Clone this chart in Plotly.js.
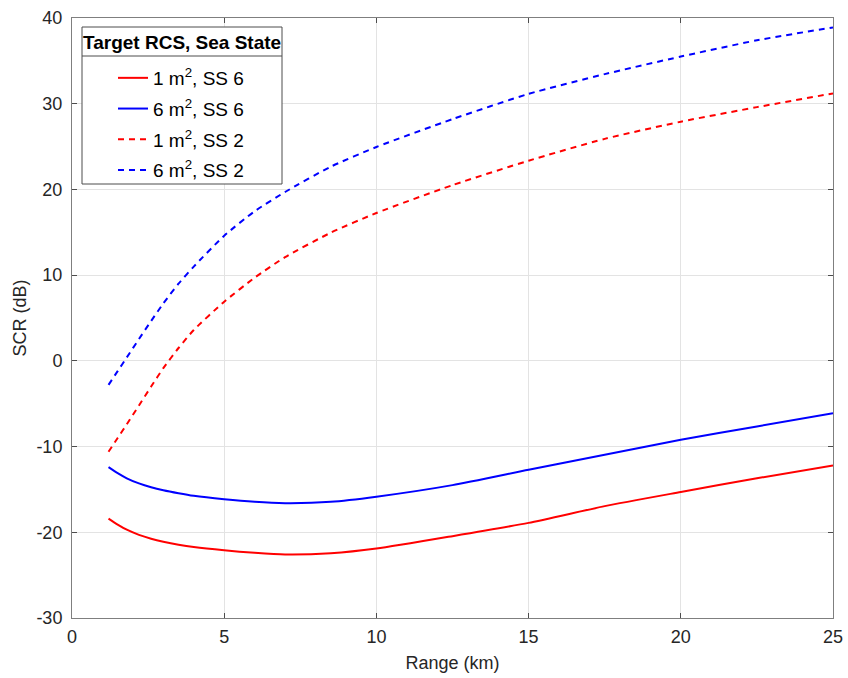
<!DOCTYPE html>
<html>
<head>
<meta charset="utf-8">
<script src="https://cdn.plot.ly/plotly-3.0.1.min.js"></script>
<style>html,body{margin:0;padding:0;background:#fff;}#chart{width:848px;height:678px;}</style>
</head>
<body>
<div id="chart"></div>
<script>
// Range (km)
const rangeKm = [1.2, 1.5, 1.8, 2.2, 2.6, 3, 3.5, 4, 5, 6, 7, 8.5, 10, 12.5, 15, 17.5, 20, 22.5, 25];
// SCR (dB)
const scr1m2SS6 = [-18.4, -19.1, -19.7, -20.3, -20.75, -21.1, -21.45, -21.72, -22.1, -22.4, -22.6, -22.45, -21.9, -20.45, -18.9, -16.95, -15.3, -13.7, -12.2];
const scr6m2SS6 = [-12.4, -13.1, -13.7, -14.3, -14.75, -15.1, -15.45, -15.75, -16.15, -16.45, -16.6, -16.45, -15.85, -14.5, -12.7, -10.95, -9.2, -7.65, -6.1];
const scr1m2SS2 = [-10.6, -9.0, -7.4, -5.2, -3.0, -0.85, 1.5, 3.6, 6.9, 9.7, 12.1, 14.95, 17.25, 20.5, 23.35, 25.9, 27.9, 29.6, 31.2];
const scr6m2SS2 = [-2.8, -1.2, 0.4, 2.55, 4.65, 6.7, 9.0, 11.0, 14.6, 17.45, 19.7, 22.65, 24.95, 28.2, 31.15, 33.45, 35.5, 37.4, 38.9];

const seriesNames = ['1 m<sup>2</sup>, SS 6', '6 m<sup>2</sup>, SS 6', '1 m<sup>2</sup>, SS 2', '6 m<sup>2</sup>, SS 2'];
const legendTitle = 'Target RCS, Sea State';
const seriesData = [scr1m2SS6, scr6m2SS6, scr1m2SS2, scr6m2SS2];
const colors = ['#ff0000', '#0000ff', '#ff0000', '#0000ff'];
const dashes = ['solid', 'solid', '6px,5px', '6px,5px'];

const font = 'Liberation Sans, Arial, sans-serif';

const traces = seriesData.map((ys, i) => ({
  x: rangeKm, y: ys, type: 'scatter', mode: 'lines',
  name: seriesNames[i], legendgroup: 'g' + i,
  line: {color: colors[i], width: 2, dash: dashes[i], shape: 'spline', smoothing: 0.6}
}));

const axisCommon = {
  showline: true, mirror: 'ticks', linecolor: '#7f7f7f', linewidth: 1,
  ticks: 'inside', ticklen: 5, tickcolor: '#4d4d4d',
  showgrid: true, gridcolor: '#e3e3e3', gridwidth: 1,
  zeroline: false,
  tickfont: {family: font, size: 18, color: '#262626'}
};

// plot area in px: left 72, right 833, top 18, bottom 618
const W = 761, H = 600, L = 72, T = 18;
const px = v => (v - L) / W;
const py = v => (T + H - v) / H;

const layout = {
  width: 848, height: 678,
  margin: {l: 72, r: 15, t: 18, b: 60},
  paper_bgcolor: '#ffffff', plot_bgcolor: '#ffffff',
  showlegend: true,
  xaxis: Object.assign({}, axisCommon, {
    range: [0, 25], tickvals: [0, 5, 10, 15, 20, 25], ticktext: ['0', '5', '10', '15', '20', '25'],
    ticklabelstandoff: 2,
    title: {text: 'Range (km)', font: {family: font, size: 18, color: '#262626'}, standoff: 10}
  }),
  yaxis: Object.assign({}, axisCommon, {
    range: [-30, 40], tickvals: [-30, -20, -10, 0, 10, 20, 30, 40],
    ticktext: ['-30', '-20', '-10', '0', '10', '20', '30', '40'],
    ticklabelstandoff: 5,
    title: {text: 'SCR (dB)', font: {family: font, size: 18, color: '#262626'}, standoff: 5}
  }),
  shapes: [
    {type: 'rect', xref: 'paper', yref: 'paper', x0: px(82), x1: px(282), y0: py(184), y1: py(27),
     fillcolor: '#ffffff', line: {color: '#4d4d4d', width: 1}, layer: 'above'},
    {type: 'line', xref: 'paper', yref: 'paper', x0: px(82), x1: px(282), y0: py(56), y1: py(56),
     line: {color: '#4d4d4d', width: 1}, layer: 'above'}
  ],
  annotations: [
    {text: '<b>' + legendTitle + '</b>', xref: 'paper', yref: 'paper', x: px(182), y: py(42),
     xanchor: 'center', yanchor: 'middle', showarrow: false,
     font: {family: font, size: 19, color: '#000000'}}
  ],
  legend: {
    x: px(113), y: py(59), xanchor: 'left', yanchor: 'top',
    bgcolor: 'rgba(0,0,0,0)', borderwidth: 0,
    font: {family: font, size: 19, color: '#000000'},
    traceorder: 'grouped', tracegroupgap: 3,
    itemwidth: 30
  }
};

Plotly.newPlot('chart', traces, layout, {displayModeBar: false, staticPlot: true});
</script>
</body>
</html>
